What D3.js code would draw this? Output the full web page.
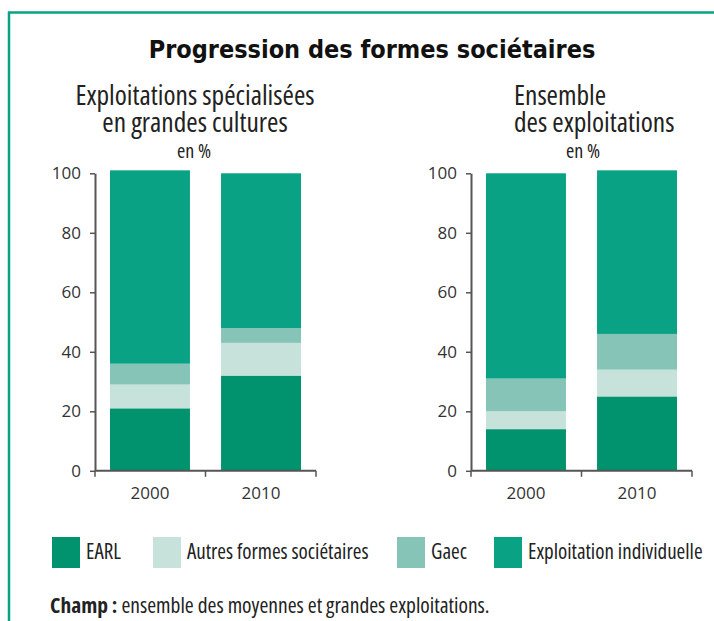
<!DOCTYPE html>
<html>
<head>
<meta charset="utf-8">
<script src="https://cdn.jsdelivr.net/npm/d3@7"></script>
<style>
  body { margin: 0; background: #fff; }
  text { font-family: "Open Sans", sans-serif; fill: #222; }
</style>
</head>
<body>
<div class="chart"></div>
<script>
//Data (percent of farms).
var years = ["2000", "2010"];
var seriesNames = ["EARL", "Autres formes sociétaires", "Gaec", "Exploitation individuelle"];
var seriesColors = ["#00936e", "#c6e2da", "#85c4b6", "#0aa285"];

var grandesCultures = [
  [21, 8, 7, 65],   // 2000
  [32, 11, 5, 52]   // 2010
];
var ensemble = [
  [14, 6, 11, 69],  // 2000
  [25, 9, 12, 55]   // 2010
];
var yTicks = [0, 20, 40, 60, 80, 100];

//SVG dimensions.
var svgWidth = 714;
var svgHeight = 621;

var svg = d3.select(".chart")
  .append("svg")
  .attr("width", svgWidth)
  .attr("height", svgHeight);

//Green frame (top and left sides).
svg.append("path")
  .attr("d", "M9,621 V12.5 H714")
  .attr("fill", "none")
  .attr("stroke", "#0aa285")
  .attr("stroke-width", 2.5);

//Main title.
svg.append("text")
  .attr("x", 372)
  .attr("y", 58)
  .attr("text-anchor", "middle")
  .style("font-family", "'DejaVu Sans Condensed', 'DejaVu Sans', sans-serif")
  .style("font-weight", "bold")
  .style("font-size", "25px")
  .style("fill", "#111")
  .text("Progression des formes sociétaires");

//Draw one stacked chart.
function drawPanel(data, axisX, titleLines) {
  var chartHeight = 297.5;
  var top = 173.3;
  var bandWidth = 221;

  var g = svg.append("g")
    .attr("transform", "translate(" + axisX + "," + top + ")");

  var x = d3.scaleBand().domain(years).range([0, bandWidth])
    .paddingInner(0.28).paddingOuter(0.135);
  var y = d3.scaleLinear().domain([0, 100]).range([chartHeight, 0]);

  //Stack the values.
  var rows = data.map(function(d, i) {
    var row = { year: years[i] };
    seriesNames.forEach(function(name, j) { row[name] = d[j]; });
    return row;
  });
  var stacked = d3.stack().keys(seriesNames)(rows);

  g.selectAll("g.layer")
    .data(stacked)
    .enter().append("g")
      .attr("class", "layer")
      .attr("fill", function(d, i) { return seriesColors[i]; })
    .selectAll("rect")
    .data(function(d) { return d; })
    .enter().append("rect")
      .attr("x", function(d) { return x(d.data.year); })
      .attr("width", x.bandwidth())
      .attr("y", function(d) { return y(d[1]); })
      .attr("height", function(d) { return y(d[0]) - y(d[1]); });

  //Y axis.
  var leftAxis = d3.axisLeft(y).tickValues(yTicks).tickSize(5).tickPadding(9).tickSizeOuter(0);
  var yAxis = g.append("g").call(leftAxis);
  yAxis.select(".domain").attr("stroke", "#555").attr("stroke-width", 2);
  yAxis.selectAll(".tick line").attr("stroke", "#555").attr("stroke-width", 1.5);
  yAxis.selectAll(".tick text")
    .style("font-family", "'Open Sans', sans-serif")
    .style("font-size", "17px")
    .style("fill", "#333");

  //X axis with ticks between categories.
  var xAxis = g.append("g").attr("transform", "translate(0," + chartHeight + ")");
  xAxis.append("line")
    .attr("x1", 0).attr("x2", bandWidth)
    .attr("stroke", "#555").attr("stroke-width", 2);
  xAxis.selectAll("line.sep")
    .data([0, bandWidth / 2, bandWidth])
    .enter().append("line")
      .attr("class", "sep")
      .attr("x1", function(d) { return d; })
      .attr("x2", function(d) { return d; })
      .attr("y1", 0).attr("y2", 6)
      .attr("stroke", "#555").attr("stroke-width", 1.5);
  xAxis.selectAll("text")
    .data(years)
    .enter().append("text")
      .attr("x", function(d) { return x(d) + x.bandwidth() / 2; })
      .attr("y", 28)
      .attr("text-anchor", "middle")
      .style("font-family", "'Open Sans', sans-serif")
      .style("font-size", "17px")
      .style("fill", "#333")
      .text(function(d) { return d; });

  //Panel titles.
  titleLines.forEach(function(t) {
    svg.append("text")
      .attr("x", t.x)
      .attr("y", t.y)
      .attr("text-anchor", t.anchor)
      .style("font-size", t.size + "px")
      .style("font-stretch", "condensed")
      .style("fill", "#222")
      .text(t.text);
  });
}

drawPanel(grandesCultures, 95, [
  { text: "Exploitations spécialisées", x: 195, y: 105, anchor: "middle", size: 27.5 },
  { text: "en grandes cultures", x: 195, y: 132, anchor: "middle", size: 27.5 },
  { text: "en %", x: 194, y: 158, anchor: "middle", size: 20 }
]);

drawPanel(ensemble, 471, [
  { text: "Ensemble", x: 514, y: 105, anchor: "start", size: 27.5 },
  { text: "des exploitations", x: 514, y: 132, anchor: "start", size: 27.5 },
  { text: "en %", x: 583, y: 158, anchor: "middle", size: 20 }
]);

//Legend.
var legendX = [52, 153, 397, 494];
var legend = svg.selectAll("g.legend")
  .data(seriesNames)
  .enter().append("g")
    .attr("class", "legend")
    .attr("transform", function(d, i) { return "translate(" + legendX[i] + ",537)"; });

legend.append("rect")
  .attr("width", 28)
  .attr("height", 31)
  .attr("fill", function(d, i) { return seriesColors[i]; });

legend.append("text")
  .attr("x", 34)
  .attr("y", 22)
  .style("font-size", "21px")
  .style("font-stretch", "condensed")
  .style("fill", "#222")
  .text(function(d) { return d; });

//Source note.
var note = svg.append("text")
  .attr("x", 50)
  .attr("y", 613)
  .style("font-size", "21.5px")
  .style("font-stretch", "condensed")
  .style("fill", "#222");
note.append("tspan").style("font-weight", "bold").text("Champ :");
note.append("tspan").text(" ensemble des moyennes et grandes exploitations.");
</script>
</body>
</html>
